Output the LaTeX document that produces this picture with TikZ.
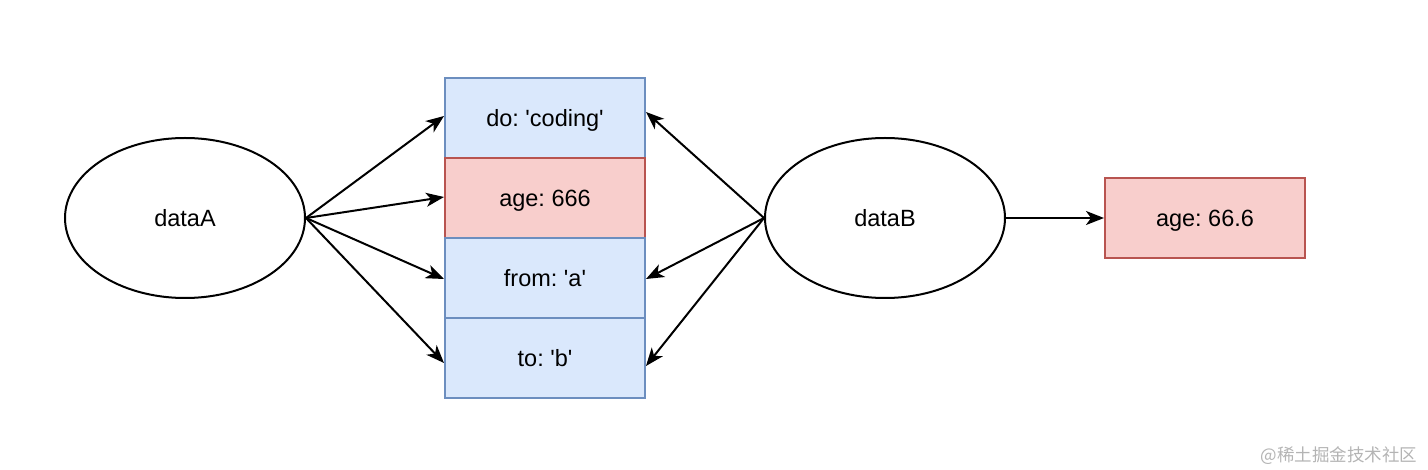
\documentclass[tikz,border=0pt]{standalone}
\usepackage{fontspec}
\setmainfont{Liberation Sans}
\newfontfamily\cjk{Noto Sans CJK SC}
\usepackage{tikz}
\usetikzlibrary{arrows.meta,shapes.geometric,positioning}
\definecolor{fieldblue}{HTML}{DAE8FC}
\definecolor{fieldbluedraw}{HTML}{6C8EBF}
\definecolor{fieldred}{HTML}{F8CECC}
\definecolor{fieldreddraw}{HTML}{B85450}
\definecolor{markgray}{HTML}{B4B4B4}
\frenchspacing
\newcommand{\sq}{\textquotesingle}
\tikzset{
    >={Stealth[length=18pt,width=14pt,inset=5pt]},
    objnode/.style={
        ellipse,
        draw=black,
        line width=2pt,
        minimum width=240pt,
        minimum height=160pt,
        inner sep=0pt,
        text height=17pt,
        text depth=0pt
    },
    fieldbox/.style={
        rectangle,
        draw=fieldbluedraw,
        line width=2pt,
        fill=fieldblue,
        minimum width=200pt,
        minimum height=80pt,
        inner sep=0pt,
        text height=17pt,
        text depth=0pt
    },
    redbox/.style={
        fieldbox,
        draw=fieldreddraw,
        fill=fieldred
    },
    ref/.style={draw, line width=2pt, ->},
    font={\fontsize{23.5pt}{27pt}\selectfont},
}
\begin{document}
\begin{tikzpicture}[x=1pt,y=-1pt]
\useasboundingbox (0,0) rectangle (1428,470);

% the shared object
\node[fieldbox] (fdo)   at (545,118) {do: \sq coding\sq};
\node[redbox]   (fage)  at (545,198) {age: 666};
\node[fieldbox] (ffrom) at (545,278) {from: \sq a\sq};
\node[fieldbox] (fto)   at (545,358) {to: \sq b\sq};

\node[objnode] (dataA) at (185,218) {dataA};
\node[objnode] (dataB) at (885,218) {dataB};
\node[redbox]  (bage)  at (1205,218) {age: 66.6};

\draw[ref] (dataA.east) -- ([yshift=2pt]fdo.west);
\draw[ref] (dataA.east) -- ([yshift=1pt]fage.west);
\draw[ref] (dataA.east) -- ([yshift=-1pt]ffrom.west);
\draw[ref] (dataA.east) -- ([yshift=-5pt]fto.west);

\draw[ref] (dataB.west) -- ([yshift=6pt]fdo.east);
\draw[ref] (dataB.west) -- ([yshift=-1pt]ffrom.east);
\draw[ref] (dataB.west) -- ([yshift=-8pt]fto.east);

\draw[ref] (dataB.east) -- (bage.west);

\node[text=markgray, font={\cjk\fontsize{17.5pt}{19pt}\selectfont}, anchor=east] (mark) at (1421,456) {@稀土掘金技术社区};
\end{tikzpicture}
\end{document}
